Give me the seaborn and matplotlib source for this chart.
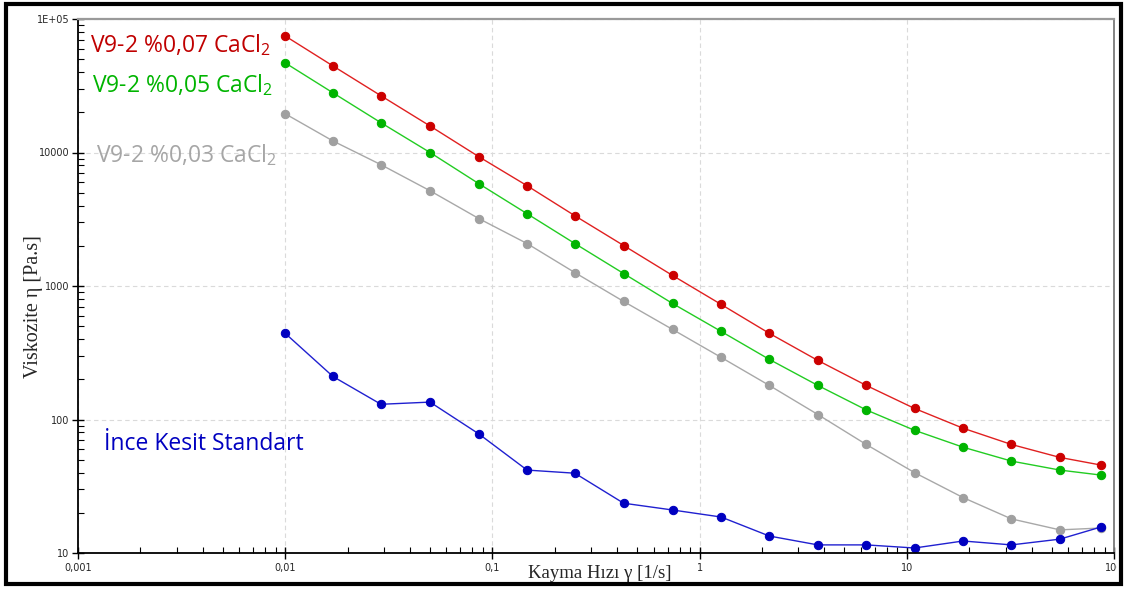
import matplotlib
matplotlib.use("Agg")
import matplotlib.pyplot as plt
import matplotlib.patches as mpatches
from matplotlib.transforms import Bbox, TransformedBbox
from matplotlib.ticker import LogLocator, NullFormatter, FixedLocator, FixedFormatter
import pandas as pd
import seaborn as sns

# shear rate [1/s]
shear_rate = [0.01, 0.017, 0.029, 0.05, 0.086, 0.147, 0.25, 0.43, 0.74, 1.27,
              2.17, 3.72, 6.37, 10.9, 18.7, 32, 54.8, 87]

# viscosity [Pa.s]
visc_007 = [74600, 44500, 26600, 15800, 9300, 5640, 3360, 2010, 1200, 728,
            442, 277, 180, 121, 86, 65, 52, 45.5]
visc_005 = [46900, 28000, 16700, 10000, 5840, 3480, 2080, 1240, 740, 457,
            282, 180, 118, 83, 62, 48.8, 41.8, 38.3]
visc_003 = [19500, 12200, 8100, 5170, 3200, 2080, 1260, 766, 473, 292,
            180, 109, 65, 40, 26, 18, 14.9, 15.4]
visc_std = [442, 210, 130, 135, 78, 41.8, 39.6, 23.6, 21, 18.6,
            13.4, 11.5, 11.5, 10.9, 12.3, 11.5, 12.7, 15.7]

series_names = ["V9-2 %0,03 CaCl2", "V9-2 %0,05 CaCl2", "V9-2 %0,07 CaCl2", "İnce Kesit Standart"]
series_values = [visc_003, visc_005, visc_007, visc_std]
line_colors = ["#a8a8a8", "#22cc22", "#e02020", "#2020d0"]
dot_colors = ["#a0a0a0", "#00b400", "#cc0000", "#0000c0"]

x_ticks = [0.001, 0.01, 0.1, 1, 10, 100]
x_labels = ["0,001", "0,01", "0,1", "1", "10", "100"]
y_ticks = [10, 100, 1000, 10000, 100000]
y_labels = ["10", "100", "1000", "10000", "1E+05"]

sns.set_style("white")
plt.rcParams["mathtext.fontset"] = "custom"
plt.rcParams["mathtext.rm"] = "Open Sans"

fig = plt.figure(figsize=(11.27, 5.89), dpi=100)
ax = fig.add_axes([78 / 1127, 36 / 589, (1114 - 78) / 1127, (553 - 19) / 589])

for name, vals, lc, dc in zip(series_names, series_values, line_colors, dot_colors):
    df = pd.DataFrame({"rate": shear_rate, "visc": vals})
    sns.lineplot(data=df, x="rate", y="visc", ax=ax, color=lc, lw=1.0,
                 marker="o", markersize=6, markerfacecolor=dc,
                 markeredgecolor=dc, sort=False, errorbar=None)

ax.set_xscale("log")
ax.set_yscale("log")
ax.set_xlim(0.001, 100)
ax.set_ylim(10, 100000)

ax.xaxis.set_major_locator(FixedLocator(x_ticks))
ax.xaxis.set_major_formatter(FixedFormatter(x_labels))
ax.yaxis.set_major_locator(FixedLocator(y_ticks))
ax.yaxis.set_major_formatter(FixedFormatter(y_labels))
ax.xaxis.set_minor_locator(LogLocator(base=10, subs=range(2, 10)))
ax.yaxis.set_minor_locator(LogLocator(base=10, subs=range(2, 10)))
ax.xaxis.set_minor_formatter(NullFormatter())
ax.yaxis.set_minor_formatter(NullFormatter())

ax.tick_params(axis="both", which="major", direction="inout", length=8,
               width=1, labelsize=7, color="black", bottom=True, left=True)
ax.tick_params(axis="both", which="minor", direction="in", length=4,
               width=0.8, color="black", bottom=True, left=True)
ax.tick_params(axis="x", which="major", pad=3)
ax.tick_params(axis="y", which="major", pad=2)

ax.grid(True, which="major", ls=(0, (4, 3)), color="#dadada", lw=0.8)

for s in ["left", "bottom"]:
    ax.spines[s].set_color("black")
    ax.spines[s].set_linewidth(1.3)
ax.spines["top"].set_color("#9a9a9a")
ax.spines["top"].set_linewidth(1.6)
ax.spines["right"].set_color("#7a7a7a")
ax.spines["right"].set_linewidth(1.3)

ax.set_xlabel("Kayma Hızı γ [1/s]", family="Liberation Serif", fontsize=13.5)
ax.set_ylabel("Viskozite η [Pa.s]", family="Liberation Serif", fontsize=14.5)
ax.xaxis.set_label_coords(0.504, -0.022)
ax.yaxis.set_label_coords(-0.034, 0.461)

# series labels
txt = dict(family="Open Sans", fontsize=16.5, transform=ax.transData, va="baseline")
ax.text(0.00114, 56600, "V9-2 %0,07 CaCl$_\\mathregular{2}$", color="#c00000", **txt)
ax.text(0.00117, 28400, "V9-2 %0,05 CaCl$_\\mathregular{2}$", color="#00b400", **txt)
ax.text(0.00122, 8490, "V9-2 %0,03 CaCl$_\\mathregular{2}$", color="#a6a6a6", **txt)
ax.text(0.00133, 59, "İnce Kesit Standart", color="#0000c0", **txt)

# clip the last x label at the outer frame like the reference
clip = TransformedBbox(Bbox([[0, 0], [1117 / 1127, 1]]), fig.transFigure)
for lbl in ax.get_xticklabels():
    lbl.set_clip_on(True)
    lbl.set_clip_box(clip)

frame = mpatches.Rectangle((6 / 1127, 5 / 589), (1121 - 6) / 1127, (585 - 5) / 589,
                           transform=fig.transFigure, fill=False, ec="black", lw=3)
fig.patches.append(frame)

fig.savefig("out.png", dpi=100)
